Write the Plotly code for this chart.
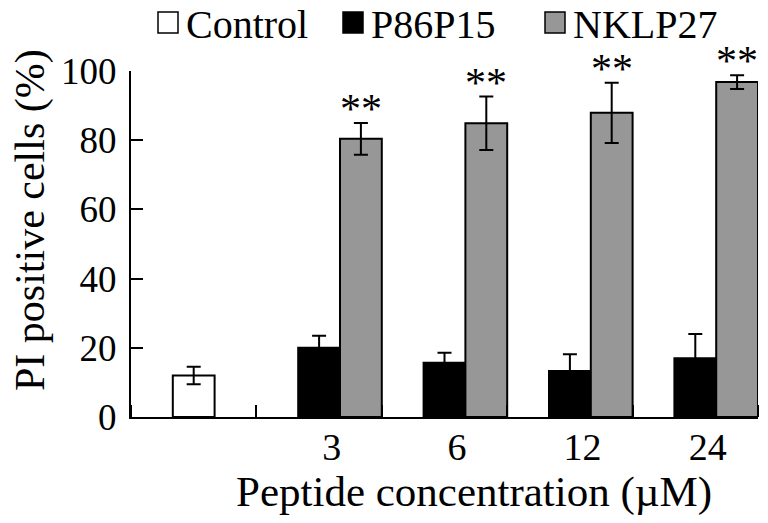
import plotly.graph_objects as go

# ---- data ----
concentrations = ["3", "6", "12", "24"]
control_mean = [12.0]
control_err = [2.5]
p86p15_mean = [20.0, 15.7, 13.3, 17.0]
p86p15_err = [3.5, 2.9, 4.8, 7.0]
nklp27_mean = [80.4, 84.9, 87.9, 96.8]
nklp27_err = [4.6, 7.7, 8.7, 2.0]
signif = ["**", "**", "**", "**"]
series_names = ["Control", "P86P15", "NKLP27"]
series_colors = ["white", "black", "#979797"]

# ---- layout constants ----
W, H = 768, 523
# target plot area in pixels
PX0, PX1, PY0, PY1 = 131, 758, 71, 417
L, R, T, B = PX0, W - PX1, PY0, H - PY1
FONT = "Liberation Serif"
BW = 1 / 3
n_cat = len(concentrations) + 1

def px2x(px):
    return (px - PX0) / (PX1 - PX0)

def px2y(py):
    return (PY1 - py) / (PY1 - PY0)

x_ctrl = [0.5]
x_p86 = [i + 1 + 0.5 for i in range(len(concentrations))]
x_nk = [i + 1 + 0.5 + BW for i in range(len(concentrations))]
x_lab = [i + 1 + 0.6 for i in range(len(concentrations))]

err_style = dict(type="data", thickness=2, width=7, color="black")
line_style = dict(color="black", width=2)

fig = go.Figure()
fig.add_trace(go.Bar(x=x_ctrl, y=control_mean, width=BW, name=series_names[0],
                     marker=dict(color=series_colors[0], line=line_style),
                     error_y=dict(array=control_err, **err_style), showlegend=False))
fig.add_trace(go.Bar(x=x_p86, y=p86p15_mean, width=BW, name=series_names[1],
                     marker=dict(color=series_colors[1], line=line_style),
                     error_y=dict(array=p86p15_err, **err_style), showlegend=False))
fig.add_trace(go.Bar(x=x_nk, y=nklp27_mean, width=BW, name=series_names[2],
                     marker=dict(color=series_colors[2], line=line_style),
                     error_y=dict(array=nklp27_err, **err_style), showlegend=False))

annotations = []
for xv, m, e, s in zip(x_nk, nklp27_mean, nklp27_err, signif):
    annotations.append(dict(x=xv, y=m + e, xref="x", yref="y", text=s, showarrow=False,
                            xanchor="center", yanchor="bottom", yshift=-11,
                            font=dict(family=FONT, size=42, color="black")))

# axis titles
annotations.append(dict(x=px2x(474), y=px2y(492), xref="paper", yref="paper",
                        text="Peptide concentration (\u00b5M)", showarrow=False,
                        xanchor="center", yanchor="middle",
                        font=dict(family=FONT, size=43, color="black")))
annotations.append(dict(x=px2x(30), y=px2y(220), xref="paper", yref="paper",
                        text="PI positive cells (%)", showarrow=False, textangle=-90,
                        xanchor="center", yanchor="middle",
                        font=dict(family=FONT, size=42, color="black")))

# manual legend
shapes = []
legend_boxes = [158, 343, 545]
for bx, name, col in zip(legend_boxes, series_names, series_colors):
    shapes.append(dict(type="rect", xref="paper", yref="paper",
                       x0=px2x(bx), x1=px2x(bx + 20), y0=px2y(33), y1=px2y(12),
                       fillcolor=col, line=dict(color="black", width=1.5)))
    annotations.append(dict(x=px2x(bx + 26), y=px2y(0), xref="paper", yref="paper",
                            text=name, showarrow=False, xanchor="left", yanchor="top",
                            font=dict(family=FONT, size=40, color="black")))

fig.update_layout(
    width=W, height=H,
    margin=dict(l=L, r=R, t=T, b=B, autoexpand=False),
    paper_bgcolor="white", plot_bgcolor="white",
    barmode="overlay",
    showlegend=False,
    hovermode=False,
    annotations=annotations,
    shapes=shapes,
    font=dict(family=FONT, size=37, color="black"),
    xaxis=dict(range=[0, n_cat], tickvals=x_lab, ticktext=concentrations,
               ticks="", showline=True, linecolor="black", linewidth=2,
               showgrid=False, zeroline=False, ticklabelstandoff=-5,
               tickfont=dict(family=FONT, size=38, color="black"),
               minor=dict(tick0=0, dtick=1, ticks="inside", ticklen=12,
                          tickwidth=2, tickcolor="black", showgrid=False)),
    yaxis=dict(range=[0, 100], tickvals=[0, 20, 40, 60, 80, 100],
               ticks="inside", ticklen=12, tickwidth=2, tickcolor="black",
               showline=True, linecolor="black", linewidth=2,
               showgrid=False, zeroline=False, ticklabelstandoff=5,
               tickfont=dict(family=FONT, size=37, color="black")),
)

fig.write_html("out.html", config={"displayModeBar": False},
               post_script="document.body.style.margin='0px';")
